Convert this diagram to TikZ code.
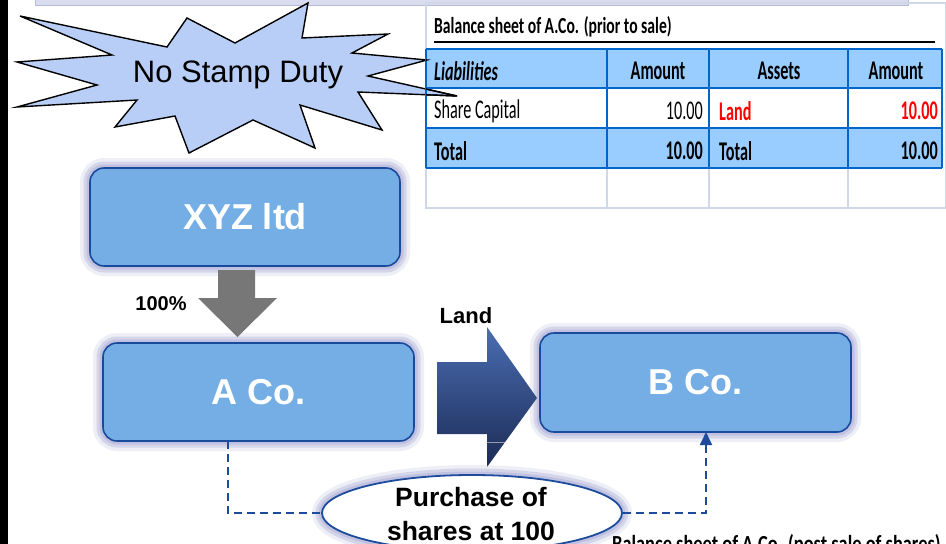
\documentclass[tikz,border=0pt]{standalone}
\usepackage{fontspec}
\setmainfont{Liberation Sans}
\newfontfamily\tabfont[FakeStretch=0.6]{Carlito}
\newfontfamily\titfont[FakeStretch=0.68]{Carlito}
\newfontfamily\postfont[FakeStretch=0.8]{Carlito}
\usetikzlibrary{shapes.geometric,calc,arrows.meta}
\definecolor{boxfill}{HTML}{74AEE4}
\definecolor{boxdraw}{HTML}{1A4A9C}
\definecolor{glowc}{HTML}{BDBEDF}
\definecolor{starfill}{HTML}{B8CEF6}
\definecolor{grayarrow}{HTML}{777777}
\definecolor{arrtop}{HTML}{4A6DB2}
\definecolor{arrbot}{HTML}{1C2B55}
\definecolor{dashc}{HTML}{1E4C9C}
\definecolor{hdrfill}{HTML}{99CCFF}
\definecolor{tabline}{HTML}{0066CC}
\definecolor{lightline}{HTML}{D0D8E8}
\definecolor{stripc}{HTML}{D8DCEE}
\definecolor{stripb}{HTML}{B4BAD8}
\definecolor{landred}{HTML}{FF0000}
\tikzset{
  glow/.style={preaction={draw=glowc,line width=20pt,opacity=0.25},
               preaction={draw=glowc,line width=13pt,opacity=0.5},
               preaction={draw=glowc,line width=7pt,opacity=0.85}},
  cobox/.style={glow,draw=boxdraw,line width=1.6pt,fill=boxfill,rounded corners=14pt,
                text=white,font=\fontsize{36}{40}\selectfont\bfseries,outer sep=0pt,
                minimum width=311pt,minimum height=98pt},
  dashline/.style={draw=dashc,line width=1.8pt,dash pattern=on 8pt off 5pt},
  lbl/.style={font=\fontsize{21}{24}\selectfont\bfseries,inner sep=0pt},
  tcell/.style={font=\tabfont\fontsize{27}{30}\selectfont,inner sep=0pt},
  tcellb/.style={font=\tabfont\fontsize{27}{30}\selectfont\bfseries,inner sep=0pt},
}
\begin{document}
\begin{tikzpicture}[x=1pt,y=-1pt]
\useasboundingbox (0,0) rectangle (946,544);
\clip (0,0) rectangle (946,544);
\fill[white] (0,0) rectangle (946,544);
% top strip and left bar
\filldraw[fill=stripc,draw=stripb,line width=0.8pt] (35,-2) rectangle (908,5);
\fill[black] (0,0) rectangle (8,544);

% starburst
\def\starpath{(20,16) -- (167,47) -- (187,18) -- (235,43) -- (308,3) -- (302,38) -- (388,34) -- (352,53) -- (427,60) -- (368,76) -- (457,96) -- (358,92) -- (382,130) -- (300,105) -- (315,148) -- (253,120) -- (189,153) -- (175,116) -- (115,127) -- (137,100) -- (17,107) -- (97,85) -- (17,62) -- (112,55) -- cycle}
\filldraw[fill=starfill,draw=black,line width=1.4pt,line join=miter] \starpath;
\node[font=\fontsize{31}{34}\selectfont,inner sep=0pt] (nsd) at (238,75) {No Stamp Duty};

% table
\draw[lightline,line width=1.5pt] (426,3) rectangle (946,208);
\fill[hdrfill] (426,49) rectangle (942,88);
\fill[hdrfill] (426,128) rectangle (942,168);
\foreach \x in {607,709,848} \draw[lightline,line width=1.5pt] (\x,168) -- (\x,207);
\foreach \y in {49,88,128,168} \draw[tabline,line width=2.2pt] (426,\y) -- (942,\y);
\foreach \x in {426,607,709,848,942} \draw[tabline,line width=2.2pt] (\x,49) -- (\x,168);
\begin{scope}
\clip (426,0) rectangle (946,200);
\draw[black,line width=1.4pt] (352,53) -- (427,60) -- (368,76) -- (457,96) -- (358,92);
\end{scope}
\node[font=\titfont\fontsize{23}{26}\selectfont\bfseries,inner sep=0pt,anchor=base west] (title) at (434,33) {Balance sheet of A.Co. (prior to sale)};
\draw[black,line width=2.4pt] (434,42) -- (935,42);
\node[tcellb,anchor=west] (h1) at (434,71) {\itshape Liabilities};
\node[tcellb] (h2) at (658,71) {Amount};
\node[tcellb] (h3) at (779,71) {Assets};
\node[tcellb] (h4) at (896,71) {Amount};
\node[tcell,anchor=west] (r1) at (434,111) {Share Capital};
\node[tcell,anchor=east] (r2) at (703,111) {10.00};
\node[tcellb,anchor=west,text=landred] (r3) at (719,111) {Land};
\node[tcellb,anchor=east,text=landred] (r4) at (938,111) {10.00};
\node[tcellb,anchor=west] (t1) at (434,151) {Total};
\node[tcellb,anchor=east] (t2) at (703,151) {10.00};
\node[tcellb,anchor=west] (t3) at (719,151) {Total};
\node[tcellb,anchor=east] (t4) at (938,151) {10.00};

% company boxes
\node[cobox,minimum width=310pt] (xyz) at (245,217) {XYZ ltd};
\node[cobox] (aco) at (258.5,392) {A Co.};
\node[cobox,minimum height=99pt] (bco) at (695.5,382.5) {B Co.};

% gray arrow
\fill[grayarrow] (218,270) -- (255,270) -- (255,298) -- (277,298) -- (237.5,337) -- (198,298) -- (218,298) -- cycle;
\node[lbl,font=\fontsize{20}{24}\selectfont\bfseries] (pct) at (161,304) {100\%};

% big blue arrow
\shade[top color=arrtop,bottom color=arrbot] (437,362) -- (487,362) -- (487,327) -- (537,398) -- (487,467) -- (487,434) -- (437,434) -- cycle;
\draw[white,opacity=0.5,line width=0.6pt] (487,442) -- (506,442);
\node[lbl,font=\fontsize{22}{24}\selectfont\bfseries] (land) at (466,316) {Land};

% ellipse
\node[ellipse,glow,draw=dashc,line width=1.8pt,fill=white,minimum width=300pt,minimum height=76pt,
      inner sep=0pt] (pur) at (472,513) {};
\node[inner sep=0pt,align=center,font=\fontsize{26.5}{34}\selectfont\bfseries,anchor=base]
      (purtxt) at (471,540) {Purchase of\\shares at 100};

% dashed connectors
\draw[dashline] ($(aco.south)+(-30.5,0)$) |- (pur.west);
\draw[dashline,-{Triangle[length=13pt,width=12pt]}] (pur.east) -| ($(bco.south)+(10.5,0)$);

% bottom text (cut off at the picture's lower edge, as in the reference)
\node[font=\postfont\fontsize{23}{26}\selectfont\bfseries,inner sep=0pt,anchor=base west] (post) at (612,551) {Balance sheet of A.Co. (post sale of shares)};
\end{tikzpicture}
\end{document}
